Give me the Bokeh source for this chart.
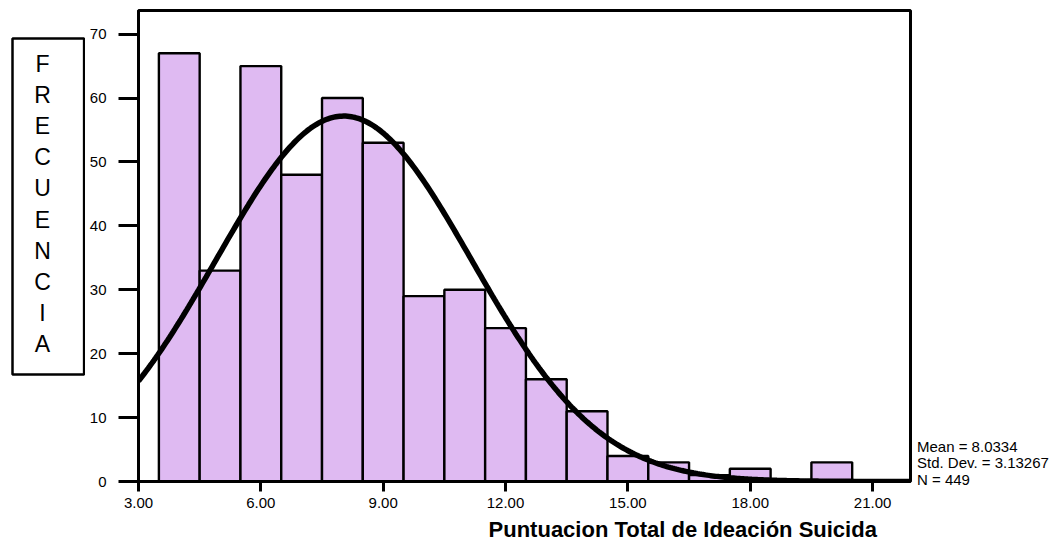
import numpy as np
from bokeh.plotting import figure
from bokeh.layouts import row, column
from bokeh.models import Range1d, FixedTicker, PrintfTickFormatter, ColumnDataSource
from bokeh.core.properties import value
from bokeh.embed import file_html
from bokeh.resources import INLINE

# ---- data ----
bin_centers = [4, 5, 6, 7, 8, 9, 10, 11, 12, 13, 14, 15, 16, 17, 18, 19, 20, 21]
counts      = [67, 33, 65, 48, 60, 53, 29, 30, 24, 16, 11, 4, 3, 1, 2, 0, 3, 0]
mean_val = 8.0334
std_val = 3.13267
n_val = 449
bin_width = 1.0
x_ticks = [3, 6, 9, 12, 15, 18, 21]
y_ticks = [0, 10, 20, 30, 40, 50, 60, 70]
x_title = "Puntuacion Total de Ideación Suicida"
y_title = "FRECUENCIA"
stats_lines = ["Mean = 8.0334", "Std. Dev. = 3.13267", "N = 449"]

FONT = "Liberation Sans"
BAR_COLOR = "#DFBAF2"

LEFT_W, RIGHT_W, TOTAL_W, TOTAL_H = 85, 146, 1058, 541
MAIN_W = TOTAL_W - LEFT_W - RIGHT_W
MAIN_H = 515
TITLE_H = TOTAL_H - MAIN_H


def blank(w, h):
    f = figure(width=w, height=h, output_backend="svg", toolbar_location=None,
               x_range=Range1d(0, w), y_range=Range1d(0, h),
               x_axis_type=None, y_axis_type=None, min_border=0)
    f.outline_line_color = None
    f.background_fill_color = "white"
    f.border_fill_color = "white"
    return f


# ---- main histogram ----
p = figure(width=MAIN_W, height=MAIN_H, output_backend="svg", toolbar_location=None,
           x_range=Range1d(3, 21.93), y_range=Range1d(0, 73.7),
           min_border_left=138 - LEFT_W, min_border_right=2, min_border_top=10,
           min_border_bottom=MAIN_H - 10 - 471)
p.background_fill_color = "white"
p.border_fill_color = "white"
p.outline_line_color = "black"
p.outline_line_width = 3
p.xgrid.visible = False
p.ygrid.visible = False

bc = np.array(bin_centers, dtype=float)
cn = np.array(counts, dtype=float)
mask = cn > 0
src = ColumnDataSource(dict(left=bc[mask] - bin_width / 2, right=bc[mask] + bin_width / 2,
                            top=cn[mask], bottom=np.zeros(mask.sum())))
p.quad(left="left", right="right", top="top", bottom="bottom", source=src,
       fill_color=BAR_COLOR, line_color="black", line_width=2.4)

xs = np.linspace(3, 21.93, 400)
ys = n_val * bin_width / (std_val * np.sqrt(2 * np.pi)) * np.exp(-0.5 * ((xs - mean_val) / std_val) ** 2)
p.line(xs, ys, line_color="black", line_width=5.5)

for ax in (p.xaxis[0], p.yaxis[0]):
    ax.axis_line_color = "black"
    ax.axis_line_width = 3
    ax.major_tick_line_color = "black"
    ax.major_tick_line_width = 3
    ax.major_tick_in = 0
    ax.minor_tick_line_color = None
    ax.major_label_text_font = FONT
    ax.major_label_text_font_size = "15px"
    ax.major_label_text_color = "black"

p.xaxis.ticker = FixedTicker(ticks=x_ticks)
p.xaxis.formatter = PrintfTickFormatter(format="%.2f")
p.xaxis.major_tick_out = 10
p.xaxis.major_label_standoff = 6

p.yaxis.ticker = FixedTicker(ticks=y_ticks)
p.yaxis.major_tick_out = 20
p.yaxis.major_label_standoff = 12

# ---- left: boxed vertical title ----
lf = blank(LEFT_W, TOTAL_H)
lf.quad(left=[12], right=[83.6], bottom=[TOTAL_H - 374], top=[TOTAL_H - 38],
        fill_color=None, line_color="black", line_width=2.5)
letters = list(y_title)
lf.text(x=[42] * len(letters), y=[TOTAL_H - 63 - i * 31.2 for i in range(len(letters))],
        text=letters, text_font=value(FONT), text_font_size="23px",
        text_align="center", text_baseline="alphabetic", text_color="black")

# ---- bottom: x title ----
tf = blank(MAIN_W, TITLE_H)
tf.text(x=[668 - LEFT_W], y=[TOTAL_H - 529], text=[x_title], text_font=value(FONT),
        text_font_size="22px", text_font_style="bold", text_align="center",
        text_baseline="alphabetic", text_color="black")

# ---- right: statistics ----
rf = blank(RIGHT_W, TOTAL_H)
rf.text(x=[916.5 - (TOTAL_W - RIGHT_W)] * 3,
        y=[TOTAL_H - 445.5, TOTAL_H - 462.2, TOTAL_H - 478.8],
        text=stats_lines, text_font=value(FONT), text_font_size="15px",
        text_align="left", text_baseline="alphabetic", text_color="black")

layout = row(lf, column(p, tf), rf)
open("out.html", "w").write(file_html(layout, INLINE))
